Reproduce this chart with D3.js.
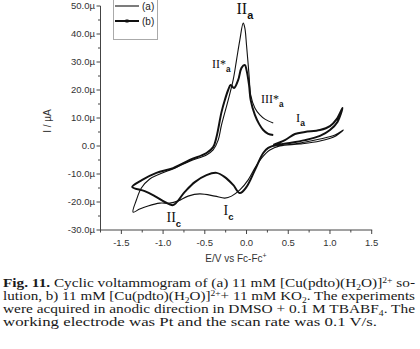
<!DOCTYPE html>
<html><head><meta charset="utf-8">
<script src="https://cdn.jsdelivr.net/npm/d3@7"></script>
<style>
body{margin:0;background:#fff;width:420px;height:349px;overflow:hidden}
svg{display:block}
</style></head><body>
<svg id="c" width="420" height="349"></svg>
<script>
// data (E in V vs Fc-Fc+, I in µA)
const seriesNames = ["(a)", "(b)"];
const aE = [0.32,0.64,0.88,1.06,1.16,1.07,0.88,0.64,0.40,0.28,0.18,0.10,0.02,-0.08,-0.18,-0.26,-0.38,-0.56,-0.70,-0.82,-0.92,-1.04,-1.18,-1.28,-1.36,-1.32,-1.26,-1.16,-1.04,-0.86,-0.68,-0.48,-0.40,-0.34,-0.30,-0.22,-0.16,-0.12,-0.08,-0.04,-0.02,0.00,0.03,0.05,0.10,0.16,0.22,0.32];
const aI = [0,1.1,2.5,3.9,5.7,3.6,1.8,0.7,0,-1.4,-4.3,-7.9,-12.1,-15.7,-17.9,-18.6,-17.9,-17.1,-17.9,-19.6,-20.4,-20.4,-21.4,-22.5,-23.6,-19.3,-15,-11.8,-10,-7.9,-5.4,-3.2,-1.4,2.1,7.5,16.4,23.6,30.7,37.9,43.9,42.1,36,25.4,18.2,13.6,11.1,9.6,8.2];
const bE = [0.32,0.46,0.58,0.70,0.88,1.00,1.08,1.15,1.09,1.00,0.88,0.70,0.52,0.36,0.26,0.20,0.10,0.00,-0.08,-0.16,-0.26,-0.36,-0.48,-0.62,-0.74,-0.88,-0.98,-1.10,-1.22,-1.37,-1.25,-1.08,-0.88,-0.68,-0.48,-0.40,-0.36,-0.30,-0.26,-0.22,-0.19,-0.15,-0.10,-0.06,-0.02,0.00,0.03,0.05,0.10,0.15,0.20,0.26,0.32];
const bI = [0.4,2.1,4.3,5.0,5.7,7.1,9.6,13.6,8.6,5.7,3.6,2.1,1.1,0.4,-0.7,-2.5,-8.6,-14.6,-16.8,-13.9,-11.1,-9.6,-10.4,-12.9,-16.4,-21.1,-20,-17.9,-16.1,-14.6,-12.1,-9.6,-7.9,-5.0,-2.5,-0.4,3.2,12.1,16.4,20,21.8,20.7,23.6,27.9,28.9,27.1,21.8,16.4,11.1,7.9,5.7,4.3,3.9];
const xTicks = [-1.5,-1.0,-0.5,0.0,0.5,1.0,1.5];
const xTickLabels = ["-1.5","-1.0","-0.5","0.0","0.5","1.0","1.5"];
const yTicks = [-30,-20,-10,0,10,20,30,40,50];
const yTickLabels = ["-30.0µ","-20.0µ","-10.0µ","0.0","10.0µ","20.0µ","30.0µ","40.0µ","50.0µ"];

const svg = d3.select("#c");
const x = d3.scaleLinear().domain([-1.75,1.5]).range([100.5,371.7]);
const y = d3.scaleLinear().domain([-30,50]).range([230,6]);
const axCol = "#444", txtCol = "#333";
const sans = "'Liberation Sans',Arial,sans-serif";
const serif = "'Liberation Serif','Times New Roman',serif";

// x axis
const gx = svg.append("g").attr("transform","translate(0,230)");
gx.append("line").attr("x1",100).attr("x2",x(1.5)+0.5).attr("stroke",axCol).attr("stroke-width",1);
d3.range(-1.75,1.51,0.25).forEach(v=>{
  const major = xTicks.some(t=>Math.abs(t-v)<1e-6);
  gx.append("line").attr("x1",x(v)).attr("x2",x(v)).attr("y1",0).attr("y2",major?4:2.5).attr("stroke",axCol);
});
xTicks.forEach((t,i)=>gx.append("text").attr("x",x(t)).attr("y",16).attr("text-anchor","middle")
  .attr("font-family",sans).attr("font-size",9.5).attr("fill",txtCol).text(xTickLabels[i]));

// y axis
const gy = svg.append("g").attr("transform","translate(100.5,0)");
gy.append("line").attr("y1",y(-30)+0.5).attr("y2",y(50)).attr("stroke",axCol);
d3.range(-30,50.1,5).forEach(v=>{
  const major = yTicks.includes(v);
  gy.append("line").attr("x1",0).attr("x2",major?-4:-2.5).attr("y1",y(v)).attr("y2",y(v)).attr("stroke",axCol);
});
yTicks.forEach((t,i)=>gy.append("text").attr("x",-5.5).attr("y",y(t)+3.3).attr("text-anchor","end")
  .attr("font-family",sans).attr("font-size",9.5).attr("fill",txtCol).text(yTickLabels[i]));

// axis titles
svg.append("text").attr("transform","translate(51,121) rotate(-90)").attr("text-anchor","middle")
  .attr("font-family",sans).attr("font-size",10).attr("fill",txtCol).text("I / µA");
const xt = svg.append("text").attr("x",236).attr("y",262).attr("text-anchor","middle")
  .attr("font-family",sans).attr("font-size",10).attr("fill",txtCol);
xt.append("tspan").text("E/V vs Fc-Fc");
xt.append("tspan").attr("dy",-4).attr("font-size",7).text("+");

// curves
const line = d3.line().x(d=>x(d[0])).y(d=>y(d[1])).curve(d3.curveCatmullRom.alpha(0.5));
const aData = aE.map((e,i)=>[e,aI[i]]);
const bData = bE.map((e,i)=>[e,bI[i]]);
svg.append("path").attr("d",line(aData)).attr("fill","none").attr("stroke","#111").attr("stroke-width",1.1);
svg.append("path").attr("d",line(bData)).attr("fill","none").attr("stroke","#111").attr("stroke-width",2);

// legend
const lg = svg.append("g");
lg.append("rect").attr("x",113.5).attr("y",-1).attr("width",44).attr("height",40.5).attr("fill","#fff").attr("stroke","#aaa").attr("stroke-width",1);
lg.append("line").attr("x1",115).attr("x2",139).attr("y1",6).attr("y2",6).attr("stroke","#111").attr("stroke-width",1.1);
lg.append("line").attr("x1",115).attr("x2",139).attr("y1",21).attr("y2",21).attr("stroke","#111").attr("stroke-width",2);
lg.append("rect").attr("x",125.5).attr("y",19.5).attr("width",3).attr("height",3).attr("fill","#111");
seriesNames.forEach((n,i)=>lg.append("text").attr("x",142).attr("y",9.5+15*i).attr("font-family",sans)
  .attr("font-size",10).attr("fill","#222").text(n));

// peak annotations
function ann(px,py,main,sub,fs){
  const t = svg.append("text").attr("x",px).attr("y",py).attr("font-family",serif).attr("font-size",fs).attr("fill","#111");
  t.append("tspan").text(main);
  t.append("tspan").attr("dy",fs*0.35).attr("font-size",fs*0.68).attr("font-family",sans).attr("font-weight","bold").text(sub);
}
ann(236.5,13.5,"II","a",16);
ann(212,68,"II*","a",12);
ann(261,103,"III*","a",12);
ann(296,121.5,"I","a",12.5);
ann(166.5,222,"II","c",14);
ann(223.5,215,"I","c",14);

// caption (segments: [text, kind]) kind: n normal, b bold, sub, sup
const capLines = [
  [["Fig. 11.","b"],[" Cyclic voltammogram of (a) 11 mM [Cu(pdto)(H","n"],["2","sub"],["O)]","n"],["2+","sup"],[" so-","n"]],
  [["lution, b) 11 mM [Cu(pdto)(H","n"],["2","sub"],["O)]","n"],["2+","sup"],["+ 11 mM KO","n"],["2","sub"],[". The experiments","n"]],
  [["were acquired in anodic direction in DMSO + 0.1 M TBABF","n"],["4","sub"],[". The","n"]],
  [["working electrode was Pt and the scan rate was 0.1 V/s.","n"]]
];
const capBase = [287,300,313,325.5];
const capWidth = [412,412,412,374];
capLines.forEach((segs,li)=>{
  const t = svg.append("text").attr("x",3).attr("y",capBase[li]).attr("font-family",serif)
    .attr("font-size",13.5).attr("fill","#1a1a1a")
    .attr("textLength",capWidth[li]).attr("lengthAdjust","spacingAndGlyphs");
  let shift = 0;
  segs.forEach(([s,k])=>{
    const ts = t.append("tspan").text(s);
    let target = 0;
    if(k==="b") ts.attr("font-weight","bold");
    if(k==="sub"){ts.attr("font-size",8.5); target=2.5;}
    if(k==="sup"){ts.attr("font-size",8.5); target=-4.5;}
    if(target!==shift){ts.attr("dy",target-shift); shift=target;}
  });
});
</script>
</body></html>
